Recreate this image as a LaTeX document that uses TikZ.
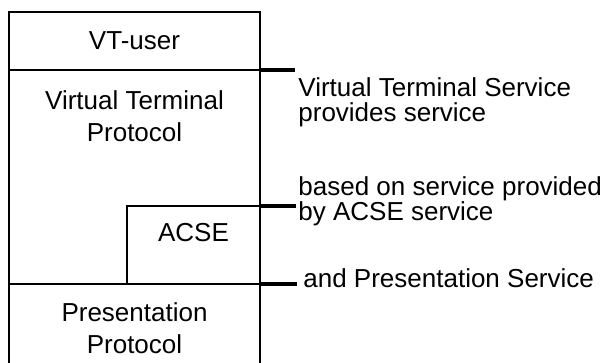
\documentclass[tikz,border=0pt]{standalone}
\usepackage{fontspec}
\setmainfont{Liberation Sans}
\usetikzlibrary{positioning}

\begin{document}
\begin{tikzpicture}[x=0.5pt, y=0.5pt,
	layer/.style={rectangle,draw=black,line width=1pt,inner sep=0pt,outer sep=0pt},
	boxtext/.style={align=center,inner sep=0pt,font=\fontsize{13}{16}\selectfont},
	note/.style={align=left,inner sep=0pt,font=\fontsize{13}{12.6}\selectfont},
	tick/.style={line width=2pt}, node distance = 0pt]
	\useasboundingbox (0,0) rectangle (609,363);
	\node[layer, boxtext, anchor=north west, minimum width=125.5pt, minimum height=29pt] (vtuser) at (9,351) {VT-user};
	\node[layer, minimum width=125.5pt, minimum height=107pt] (vtp)[below = of vtuser]{};
	\node[layer, anchor=south east, minimum width=66.5pt, minimum height=39pt] (acse) at (vtp.south east) {};
	\node[layer, minimum width=125.5pt, minimum height=45pt] (pres)[below = of vtp]{};
	\node[boxtext] (vtptext)[below = 10pt of vtp.north]{Virtual Terminal\\Protocol};
	\node[boxtext] (acsetext)[below = 8.5pt of acse.north]{ACSE};
	\node[boxtext] (prestext)[below = 9pt of pres.north]{Presentation\\Protocol};
	\draw[tick] (vtuser.south east) -- ++(35,0) coordinate (t1);
	\draw[tick] (acse.north east) -- ++(36,0) coordinate (t2);
	\draw[tick] (acse.south east) -- ++(37,0) coordinate (t3);
	\node[note] (vts)[below right = 3.5pt and 1.5pt of t1]{Virtual Terminal Service\\provides service};
	\node[note, anchor=north west, xshift=1pt, yshift=15pt] (acses) at (t2) {based on service provided\\by ACSE service};
	\node[note, anchor=base west, xshift=3pt, yshift=-2pt] (press) at (t3) {and Presentation Service};
\end{tikzpicture}
\end{document}
